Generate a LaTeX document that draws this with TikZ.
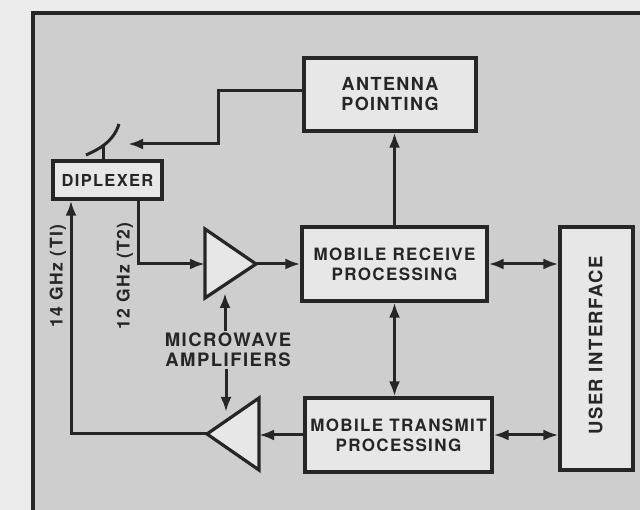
\documentclass[tikz,border=0pt]{standalone}
\usepackage{fontspec}
\newfontfamily\lbl[LetterSpace=8]{TeX Gyre Heros}
\usetikzlibrary{arrows.meta}
\definecolor{outbg}{HTML}{ECECEC}
\definecolor{inbg}{HTML}{CECECE}
\definecolor{boxbg}{HTML}{E7E7E7}
\definecolor{ink}{HTML}{262626}
\begin{document}
\begin{tikzpicture}[x=1pt,y=-1pt,
  blk/.style={draw=ink, fill=boxbg, line width=3.2pt, inner sep=0pt, align=center, text=ink,
    font=\lbl\bfseries\fontsize{18}{20}\selectfont},
  txt/.style={inner sep=2pt, align=center, text=ink, font=\lbl\bfseries\fontsize{18.5}{20}\selectfont},
  wire/.style={draw=ink, line width=3pt},
  amp/.style={draw=ink, fill=boxbg, line width=3.2pt, line join=miter},
  arr/.style={wire, -{Latex[length=15pt,width=11pt]}},
  darr/.style={wire, {Latex[length=15pt,width=11pt]}-{Latex[length=15pt,width=11pt]}}]
\useasboundingbox (0,0) rectangle (640,510);
\fill[outbg] (0,0) rectangle (640,510);
\begin{scope}
  \clip (0,0) rectangle (640,510);
  \draw[line width=4.5pt, draw=ink, fill=inbg] (33,13) rectangle (700,560);
\end{scope}
% blocks
\node[blk, minimum width=172pt, minimum height=73pt] (ant) at (390,94.5) {ANTENNA\\POINTING};
\node[blk, minimum width=109pt, minimum height=38pt, font=\lbl\bfseries\fontsize{16.5}{18}\selectfont] (dip) at (107.5,180) {DIPLEXER};
\node[blk, minimum width=185pt, minimum height=74pt, font=\lbl\bfseries\fontsize{17}{20}\selectfont] (rcv) at (394.5,264) {MOBILE RECEIVE\\PROCESSING};
\node[blk, minimum width=187pt, minimum height=74pt, font=\lbl\bfseries\fontsize{17}{20}\selectfont] (tx) at (398.5,435) {MOBILE TRANSMIT\\PROCESSING};
\node[blk, minimum width=73pt, minimum height=243pt] (ui) at (596.5,348.5) {};
\node[txt, rotate=90, font=\lbl\bfseries\fontsize{18.5}{20}\selectfont] (uil) at ([xshift=-1pt,yshift=3pt]ui.center) {USER INTERFACE};
% amplifiers
\draw[amp] (205,229) -- (256,264) -- (205,298) -- cycle;
\coordinate (rxin) at (205,264);
\coordinate (rxout) at (256,264);
\draw[amp] (259,398) -- (207,434) -- (259,470) -- cycle;
\coordinate (txin) at (259,435);
\coordinate (txout) at (207,434);
% antenna dish
\coordinate (dishbase) at (103,146);
\coordinate (feed) at (128,144);
\draw[wire] (dip.north -| dishbase) -- (dishbase);
\draw[wire] (86,155) .. controls (97,150) and (113,143) .. (119,124);
% labels
\node[txt] (mw) at (228,350) {MICROWAVE\\AMPLIFIERS};
\node[txt, rotate=90, font=\lbl\bfseries\fontsize{17.5}{19}\selectfont] (l14) at (58,276) {14 GHz (TI)};
\node[txt, rotate=90, font=\lbl\bfseries\fontsize{17.5}{19}\selectfont] (l12) at (125,276) {12 GHz (T2)};
\coordinate (rxmid) at (225,293);
\coordinate (txmid) at (226,412);
% connectors
\draw[arr] ([yshift=3.5pt]ant.west) -- ++(-84,0) |- (feed);
\draw[arr] ([xshift=30.5pt]dip.south) |- (rxin);
\draw[arr] (txout) -| ([xshift=-36.5pt]dip.south);
\draw[arr] (rxout) -- (rcv.west);
\draw[arr] (rcv.north) -- (rcv.north |- ant.south);
\draw[darr] (rcv.south) -- (rcv.south |- tx.north);
\draw[darr] (rcv.east) -- (rcv.east -| ui.west);
\draw[darr] (tx.east) -- (tx.east -| ui.west);
\draw[arr] (tx.west) -- (txin);
\draw[arr] (mw.north -| rxmid) -- (rxmid);
\draw[arr] (mw.south -| txmid) -- (txmid);
\end{tikzpicture}
\end{document}
